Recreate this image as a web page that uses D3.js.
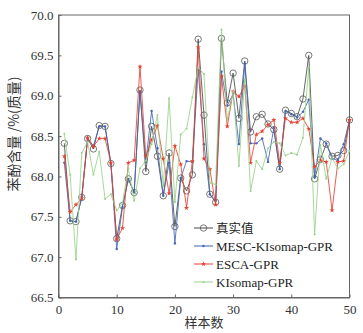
<!DOCTYPE html>
<html>
<head>
<meta charset="utf-8">
<script src="https://cdn.jsdelivr.net/npm/d3@7"></script>
<style>
  html, body { margin: 0; padding: 0; background: #fff; }
  svg { display: block; }
</style>
</head>
<body>
<svg id="chart" width="363" height="333"></svg>
<script>
// Sample index 1..50
const samples = d3.range(1, 51);

// Measured phenol content (wt%)
const actual = [68.41, 67.45, 67.44, 67.74, 68.47, 68.34, 68.63, 68.62, 68.16, 67.23,
                67.64, 67.97, 67.80, 69.07, 68.06, 68.62, 68.25, 67.76, 68.29, 67.38,
                67.98, 67.82, 68.02, 69.70, 68.76, 67.78, 67.68, 69.71, 68.91, 69.28,
                68.72, 69.43, 68.55, 68.74, 68.77, 68.65, 68.58, 68.09, 68.82, 68.78,
                68.74, 68.96, 69.50, 67.97, 68.21, 68.40, 68.25, 68.26, 68.32, 68.70];

// MESC-KIsomap-GPR predictions
const mescKisomap = [68.17, 67.45, 67.44, 67.75, 68.47, 68.38, 68.62, 68.62, 68.16, 67.10,
                     67.62, 67.97, 67.80, 69.05, 68.18, 68.81, 68.35, 67.76, 68.17, 67.17,
                     67.98, 68.19, 68.18, 69.32, 68.40, 67.78, 67.70, 69.30, 68.88, 69.02,
                     68.40, 69.40, 68.41, 68.41, 68.47, 68.18, 68.60, 68.09, 68.81, 68.77,
                     68.73, 68.80, 68.95, 67.99, 68.47, 68.41, 68.22, 68.20, 68.40, 68.70];

// ESCA-GPR predictions
const escaGpr = [68.25, 67.56, 67.65, 67.73, 68.48, 68.37, 68.47, 68.47, 68.17, 67.22,
                 67.36, 68.17, 68.20, 69.36, 68.25, 68.45, 68.63, 68.22, 67.79, 68.38,
                 68.15, 67.61, 68.19, 69.60, 68.22, 68.09, 67.65, 69.24, 68.62, 69.05,
                 68.99, 69.12, 68.17, 68.52, 68.56, 68.64, 68.70, 68.17, 68.72, 68.67,
                 68.67, 68.72, 68.59, 68.12, 68.20, 68.18, 67.58, 68.18, 68.19, 68.70];

// KIsomap-GPR predictions
const kisomapGpr = [68.53, 68.02, 66.97, 68.29, 68.43, 68.02, 68.31, 67.72, 67.78, 67.58,
                    67.67, 68.10, 67.70, 68.10, 68.19, 68.40, 68.76, 67.88, 68.97, 67.68,
                    68.52, 68.59, 68.98, 69.35, 69.27, 67.92, 67.90, 69.82, 68.70, 69.05,
                    68.13, 69.20, 67.82, 68.19, 68.09, 68.35, 68.43, 68.41, 68.26, 68.29,
                    68.27, 68.48, 69.35, 67.28, 68.39, 67.97, 68.23, 68.10, 68.15, 68.32];

const xTicks = [0, 10, 20, 30, 40, 50];
const yTicks = [66.5, 67.0, 67.5, 68.0, 68.5, 69.0, 69.5, 70.0];

const seriesNames = ["真实值", "MESC-KIsomap-GPR", "ESCA-GPR", "KIsomap-GPR"];
const seriesColors = ["#4a4a4a", "#4265b4", "#e8402f", "#98d189"];

const svg = d3.select("#chart");
const m = { left: 58.5, right: 349.5, top: 15, bottom: 297.5 };

const x = d3.scaleLinear().domain([0, 50]).range([m.left, m.right]);
const y = d3.scaleLinear().domain([66.5, 70.0]).range([m.bottom, m.top]);

const serif = "'Liberation Serif', 'Times New Roman', serif";
const cjk = "'Noto Sans CJK SC', sans-serif";

// Frame
svg.append("rect")
  .attr("x", m.left).attr("y", m.top)
  .attr("width", m.right - m.left).attr("height", m.bottom - m.top)
  .attr("fill", "none").attr("stroke", "#666").attr("stroke-width", 1);

// Axes with inward ticks
const xAxis = svg.append("g")
  .attr("transform", `translate(0,${m.bottom})`)
  .call(d3.axisBottom(x).tickValues(xTicks).tickSizeInner(-3).tickSizeOuter(0).tickPadding(7).tickFormat(d3.format("d")));
const yAxis = svg.append("g")
  .attr("transform", `translate(${m.left},0)`)
  .call(d3.axisLeft(y).tickValues(yTicks).tickSizeInner(-3).tickSizeOuter(0).tickPadding(5).tickFormat(d3.format(".1f")));

[xAxis, yAxis].forEach(g => {
  g.select(".domain").attr("stroke", "#666");
  g.selectAll(".tick line").attr("stroke", "#666");
  g.selectAll(".tick text").attr("fill", "#333").style("font-family", serif).style("font-size", "13px");
});

// Axis titles
svg.append("text")
  .attr("x", (m.left + m.right) / 2).attr("y", 327)
  .attr("text-anchor", "middle")
  .style("font-family", cjk).style("font-size", "13px").attr("fill", "#333")
  .text("样本数");

svg.append("text")
  .attr("transform", `translate(19,134) rotate(-90)`)
  .attr("text-anchor", "middle")
  .style("font-family", cjk).style("font-size", "14px").attr("fill", "#333")
  .text("苯酚含量 /%(质量)");

// Series
const seriesData = [actual, mescKisomap, escaGpr, kisomapGpr];
const line = d3.line().x((d, i) => x(samples[i])).y(d => y(d));

const plot = svg.append("g");

function drawMarker(g, k, cx, cy) {
  if (k === 0) {
    g.append("circle").attr("cx", cx).attr("cy", cy).attr("r", 3.2)
      .attr("fill", "none").attr("stroke", "#555").attr("stroke-width", 0.8);
  } else if (k === 1) {
    g.append("circle").attr("cx", cx).attr("cy", cy).attr("r", 1.2)
      .attr("fill", seriesColors[k]);
  } else if (k === 2) {
    g.append("path").attr("transform", `translate(${cx},${cy})`)
      .attr("d", d3.symbol(d3.symbolStar, 8)())
      .attr("fill", seriesColors[k]);
  } else {
    g.append("circle").attr("cx", cx).attr("cy", cy).attr("r", 1)
      .attr("fill", seriesColors[k]);
  }
}

seriesData.forEach((vals, k) => {
  const g = plot.append("g");
  g.append("path").datum(vals)
    .attr("d", line)
    .attr("fill", "none")
    .attr("stroke", seriesColors[k])
    .attr("stroke-width", 0.85);
  vals.forEach((v, i) => drawMarker(g, k, x(samples[i]), y(v)));
});

// Legend
const legend = svg.append("g");
const legendRows = [228, 246, 264, 282];
seriesNames.forEach((name, k) => {
  const ly = legendRows[k];
  legend.append("line")
    .attr("x1", 194).attr("x2", 213).attr("y1", ly).attr("y2", ly)
    .attr("stroke", seriesColors[k]).attr("stroke-width", 1);
  drawMarker(legend, k, 203.5, ly);
  legend.append("text")
    .attr("x", 216).attr("y", ly + 4.5)
    .style("font-family", k === 0 ? cjk : serif)
    .style("font-size", k === 0 ? "12.5px" : "13px")
    .attr("fill", "#222")
    .text(name);
});
</script>
</body>
</html>
